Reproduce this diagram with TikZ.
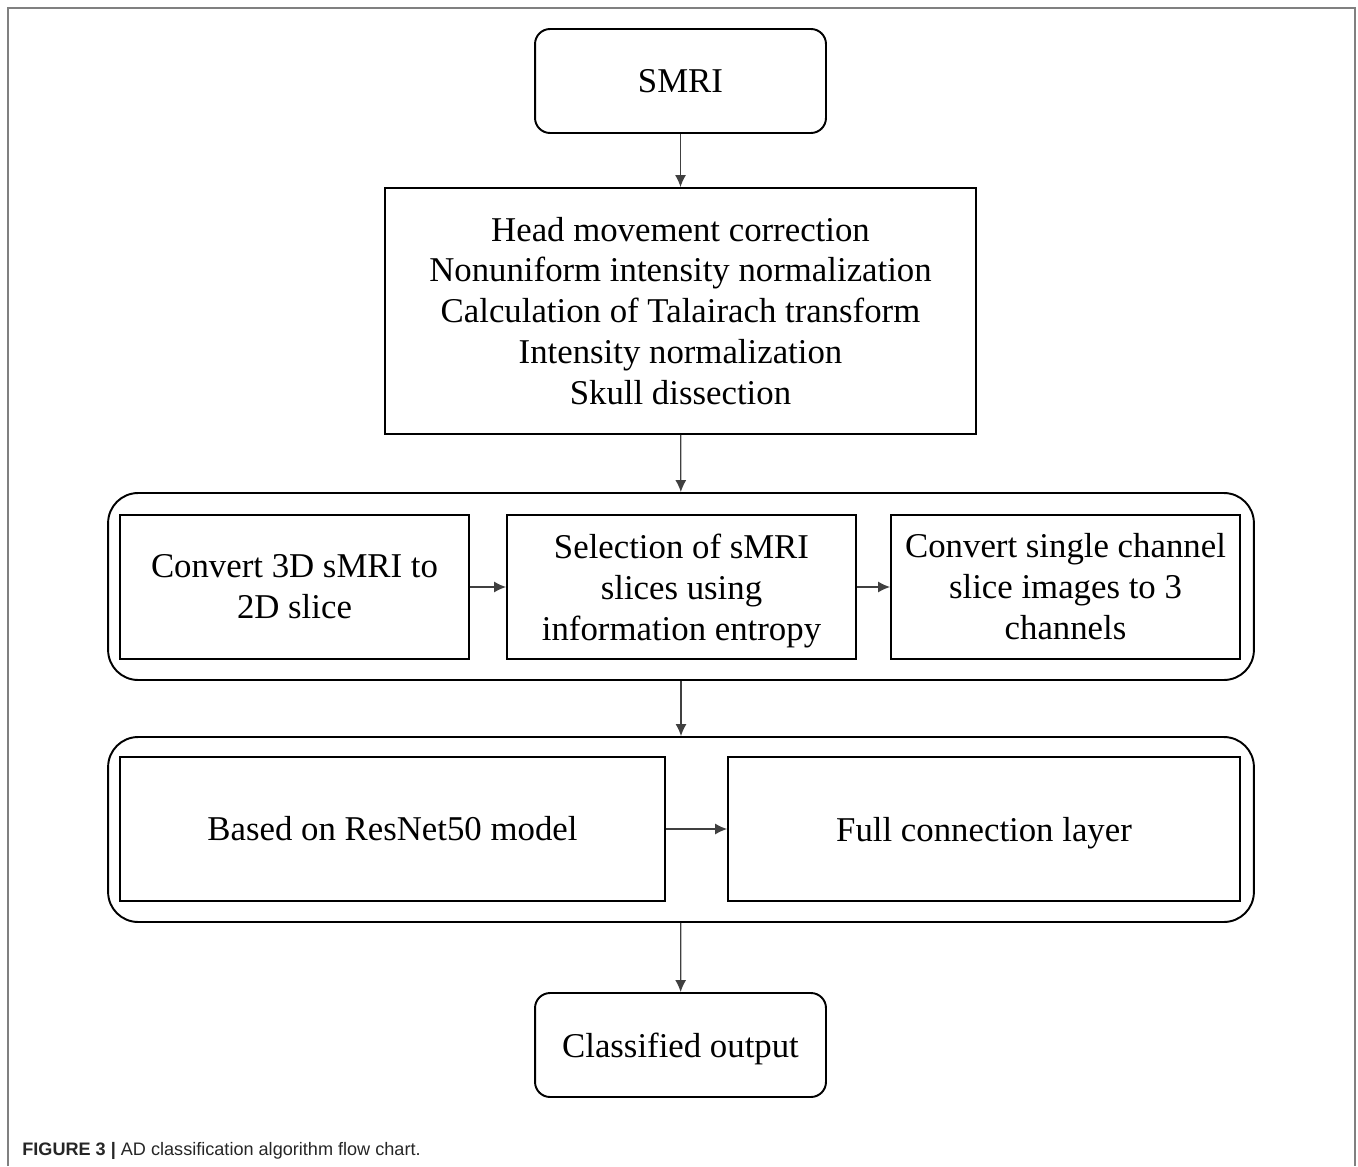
\documentclass[tikz,border=0pt]{standalone}
\usepackage{fontspec}
\setmainfont{Liberation Serif}
\newfontfamily\capfont{Liberation Sans}
\usetikzlibrary{arrows.meta}
\begin{document}
\begin{tikzpicture}[x=0.02cm,y=-0.02cm,
	every node/.style={font=\fontsize{19.8}{23.3}\selectfont,align=center,inner sep=0pt},
	nodepth/.style={text depth=0pt},
	rbox/.style={draw,line width=1.1pt,rounded corners=0.3cm,minimum width=5.82cm,minimum height=2.08cm},
	sbox/.style={draw,line width=1.1pt,minimum height=2.88cm},
	group/.style={draw,line width=1.1pt,rounded corners=0.6cm,minimum width=22.92cm},
	arr/.style={-{Latex[length=0.24cm,width=0.22cm]},line width=0.7pt,black!75}]
	\useasboundingbox (0,0) rectangle (1358,1166);
	\draw[gray,line width=1.1pt] (8,1166) -- (8,8) -- (1355,8) -- (1355,1166);
	% input and preprocessing
	\node[rbox] (smri) at (680.5,81) {SMRI};
	\node[draw,line width=1.1pt,minimum width=11.82cm,minimum height=4.92cm] (prep) at (680.5,311)
		{Head movement correction\\Nonuniform intensity normalization\\Calculation of Talairach transform\\Intensity normalization\\Skull dissection};
	% slice stage
	\node[group,minimum height=3.74cm] (slices) at (681,586.5) {};
	\node[sbox,minimum width=6.98cm] (conv) at (294.5,587) {Convert 3D sMRI to\\2D slice};
	\node[sbox,nodepth,minimum width=6.98cm] (sel) at (681.5,587) {Selection of sMRI\\slices using\\information entropy};
	\node[sbox,minimum width=6.98cm] (chan) at (1065.5,587) {Convert single channel\\slice images to 3\\channels};
	% network stage
	\node[group,minimum height=3.70cm] (net) at (681,829.5) {};
	\node[sbox,minimum width=10.9cm] (resnet) at (392.5,829) {Based on ResNet50 model};
	\node[sbox,nodepth,minimum width=10.24cm] (fc) at (984,829) {Full connection layer};
	\node[rbox,nodepth] (out) at (680.5,1045) {Classified output};
	\node[anchor=base west,font=\capfont\fontsize{10.3}{12}\selectfont,text=black!85] (cap) at (22,1155)
		{\textbf{FIGURE 3 |} AD classification algorithm flow chart.};
	% connectors
	\draw[arr] (smri) -- (prep);
	\draw[arr] (prep) -- (slices);
	\draw[arr] (conv) -- (sel);
	\draw[arr] (sel) -- (chan);
	\draw[arr] (slices) -- (net);
	\draw[arr] (resnet) -- (fc);
	\draw[arr] (net) -- (out);
\end{tikzpicture}
\end{document}
